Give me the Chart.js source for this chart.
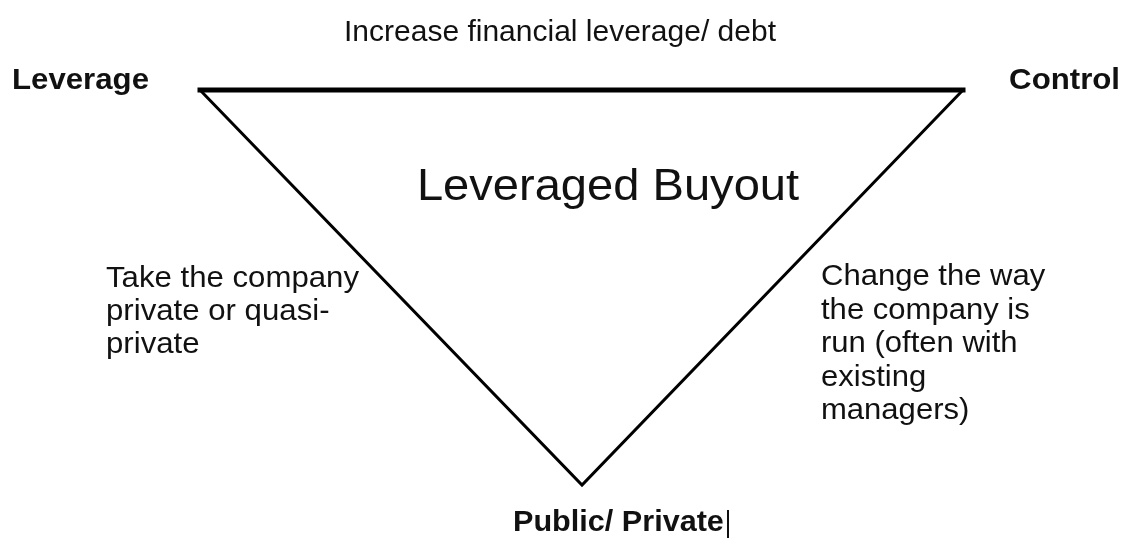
<!DOCTYPE html>
<html>
<head>
<meta charset="utf-8">
<script src="https://cdn.jsdelivr.net/npm/chart.js@4/dist/chart.umd.min.js"></script>
<style>
  body { margin: 0; background: #fff; }
  canvas { display: block; }
</style>
</head>
<body>
<canvas id="grafico" width="1125" height="539"></canvas>
<script>
// triangle corners (diagram units, y grows downward)
const cornerNames = ['Leverage', 'Control', 'Public/ Private']
const cornerX = [200, 963, 582]
const cornerY = [90, 90, 485]

// text labels
const titleText = 'Leveraged Buyout'
const topText = 'Increase financial leverage/ debt'
const leftLines = ['Take the company', 'private or quasi-', 'private']
const rightLines = ['Change the way', 'the company is', 'run (often with', 'existing', 'managers)']

const fonte = '"Liberation Sans", Arial, Helvetica, sans-serif'

const topEdge = [
  { x: cornerX[0], y: cornerY[0] },
  { x: cornerX[1], y: cornerY[1] }
]
const sideEdges = [
  { x: cornerX[1], y: cornerY[1] },
  { x: cornerX[2], y: cornerY[2] },
  { x: cornerX[0], y: cornerY[0] }
]

// text a bit wider than Liberation Sans, like the original
function escreve(ctx, t, x, y, align, esticar) {
  const w = ctx.measureText(t).width * esticar
  let x0 = x
  if (align === 'center') x0 = x - w / 2
  if (align === 'right') x0 = x - w
  ctx.save()
  ctx.translate(x0, y)
  ctx.scale(esticar, 1)
  ctx.textAlign = 'left'
  ctx.fillText(t, 0, 0)
  ctx.restore()
}

const textos = {
  id: 'textos',
  afterDatasetsDraw(chart) {
    const ctx = chart.ctx
    const sx = chart.scales.x
    const sy = chart.scales.y
    const px = v => sx.getPixelForValue(v)
    const py = v => sy.getPixelForValue(v)
    ctx.save()
    ctx.fillStyle = '#111'
    ctx.textBaseline = 'alphabetic'

    ctx.font = '30px ' + fonte
    escreve(ctx, topText, px(560), py(41), 'center', 1)

    ctx.font = 'bold 30px ' + fonte
    escreve(ctx, cornerNames[0], px(12), py(89), 'left', 1.04)
    escreve(ctx, cornerNames[1], px(1120), py(89), 'right', 1.04)
    escreve(ctx, cornerNames[2], px(513), py(531), 'left', 1.02)

    // stray text cursor after "Public/ Private"
    ctx.fillRect(px(727), py(510), 2, 28)

    ctx.font = '44px ' + fonte
    escreve(ctx, titleText, px(608), py(200), 'center', 1.07)

    ctx.font = '29px ' + fonte
    leftLines.forEach((t, i) => escreve(ctx, t, px(106), py(287 + i * 33), 'left', 1.075))
    rightLines.forEach((t, i) => escreve(ctx, t, px(821), py(285 + i * 33.5), 'left', 1.07))
    ctx.restore()
  }
}

new Chart(document.getElementById('grafico').getContext('2d'), {
  type: 'scatter',
  data: {
    datasets: [
      {
        data: topEdge,
        showLine: true,
        borderColor: '#000',
        borderWidth: 5,
        pointRadius: 0,
        borderCapStyle: 'square'
      },
      {
        data: sideEdges,
        showLine: true,
        borderColor: '#000',
        borderWidth: 3,
        pointRadius: 0,
        borderJoinStyle: 'miter'
      }
    ]
  },
  options: {
    responsive: false,
    devicePixelRatio: 1,
    animation: false,
    layout: { padding: 0 },
    plugins: { legend: { display: false }, tooltip: { enabled: false } },
    scales: {
      x: { type: 'linear', min: 0, max: 1125, display: false },
      y: { type: 'linear', min: 0, max: 539, reverse: true, display: false }
    }
  },
  plugins: [textos]
})
</script>
</body>
</html>
